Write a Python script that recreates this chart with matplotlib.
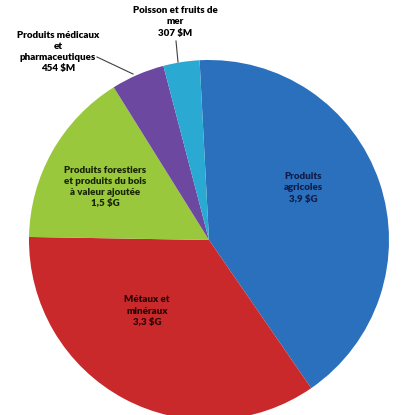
import matplotlib.pyplot as plt
import numpy as np

# Exportations par secteur (valeurs en milliards $)
secteurs = ["Produits agricoles", "Métaux et minéraux",
            "Produits forestiers et produits du bois à valeur ajoutée",
            "Produits médicaux et pharmaceutiques", "Poisson et fruits de mer"]
valeurs = [3.9, 3.3, 1.5, 0.454, 0.307]
etiquettes = ["Produits\nagricoles\n3,9 $G",
              "Métaux et\nminéraux\n3,3 $G",
              "Produits forestiers\net produits du bois\nà valeur ajoutée\n1,5 $G",
              "Produits médicaux\net\npharmaceutiques\n454 $M",
              "Poisson et fruits de\nmer\n307 $M"]
couleurs = ["#2a70bd", "#c9292a", "#99c83c", "#6c48a0", "#2aa9d2"]
couleurs_texte = ["#101d4a", "#2a0505", "#1a2505", "black", "black"]

plt.rcParams['font.family'] = ['Lato', 'DejaVu Sans']

fig = plt.figure(figsize=(4.15, 4.15), dpi=100)
ax = fig.add_axes([0, 0, 1, 1])

# pixel -> data helper (center of pie at 209,240, radius 180 px)
cx, cy, r = 209, 240, 180.0
def pos(px, py):
    return ((px - cx) / r, (cy - py) / r)

ax.pie(valeurs, colors=couleurs, startangle=93, counterclock=False,
       radius=1.0, center=(0, 0), wedgeprops=dict(linewidth=0))

x0, y0 = pos(0, 415)
x1, y1 = pos(415, 0)
ax.set_xlim(x0, x1)
ax.set_ylim(y0, y1)
ax.set_aspect('equal')
ax.axis('off')

# positions of the label centres (pixels) and leader lines
places = [(303, 188), (147, 311), (105, 187), (58, 52), (175, 22)]
for lab, (px, py), tc in zip(etiquettes, places, couleurs_texte):
    ax.text(*pos(px, py), lab, ha='center', va='center', fontsize=7,
            fontweight='heavy', color=tc, linespacing=1.3)

ax.plot(*zip(pos(97, 57), pos(133, 74)), color='#404040', lw=0.8)
ax.plot(*zip(pos(176, 41), pos(178, 62)), color='#404040', lw=0.8)

plt.savefig('out.png', dpi=100)
